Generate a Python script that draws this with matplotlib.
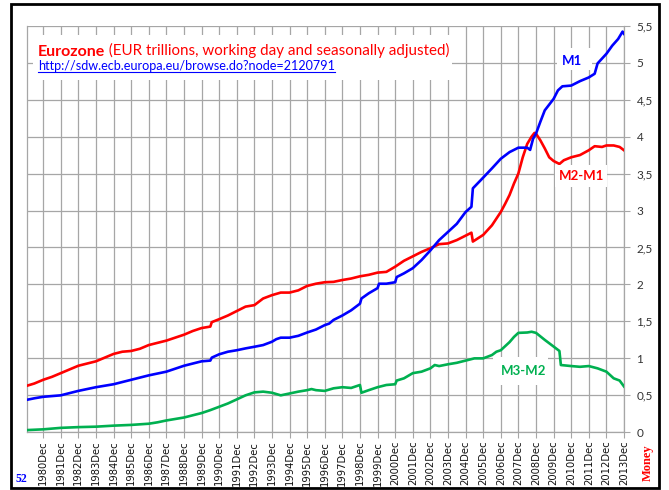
import matplotlib
matplotlib.use("Agg")
import matplotlib.pyplot as plt
import pandas as pd
from matplotlib.patches import Rectangle
from matplotlib.lines import Line2D

# ---------------- data (EUR trillions) ----------------
m1_dates = ["1980-01","1980-06","1980-12","1981-06","1981-12","1982-06","1982-12","1983-06","1983-12",
            "1984-06","1984-12","1985-06","1985-12","1986-06","1986-12","1987-06","1987-12","1988-06",
            "1988-12","1989-06","1989-12","1990-06","1990-07","1990-12","1991-06","1991-12","1992-06",
            "1992-12","1993-06","1993-12","1994-03","1994-06","1994-12","1995-06","1995-12","1996-06",
            "1996-12","1997-03","1997-06","1997-12","1998-06","1998-12","1999-01","1999-06","1999-12",
            "2000-01","2000-06","2000-12","2001-01","2001-06","2001-12","2002-06","2002-12","2003-06",
            "2003-12","2004-06","2004-12","2005-04","2005-05","2005-12","2006-06","2006-12","2007-06",
            "2007-12","2008-06","2008-08","2008-10","2008-12","2009-03","2009-06","2009-12","2010-03",
            "2010-06","2010-12","2011-06","2011-12","2012-04","2012-06","2012-12","2013-04","2013-08",
            "2013-11","2013-12"]
m1_vals = [0.44,0.46,0.48,0.49,0.50,0.53,0.56,0.585,0.61,
           0.63,0.65,0.68,0.71,0.74,0.77,0.795,0.82,0.86,
           0.90,0.93,0.96,0.97,1.01,1.055,1.09,1.11,1.135,
           1.157,1.18,1.225,1.26,1.28,1.28,1.305,1.35,1.39,
           1.45,1.47,1.52,1.58,1.65,1.74,1.81,1.88,1.95,
           2.01,2.01,2.03,2.10,2.15,2.22,2.33,2.46,2.60,
           2.71,2.82,2.98,3.05,3.30,3.445,3.57,3.70,3.79,
           3.85,3.85,3.82,3.97,4.04,4.20,4.355,4.51,4.625,
           4.68,4.69,4.75,4.80,4.85,4.99,5.12,5.23,5.32,
           5.42,5.39]

m2m1_dates = ["1980-01","1980-06","1980-12","1981-06","1981-12","1982-06","1982-12","1983-06","1983-12",
              "1984-06","1984-12","1985-06","1985-12","1986-06","1986-12","1987-06","1987-12","1988-06",
              "1988-12","1989-06","1989-12","1990-06","1990-07","1990-12","1991-06","1991-12","1992-06",
              "1992-12","1993-06","1993-12","1994-06","1994-12","1995-06","1995-12","1996-06","1996-12",
              "1997-06","1997-12","1998-06","1998-12","1999-06","1999-12","2000-06","2000-12","2001-06",
              "2001-12","2002-06","2002-12","2003-06","2003-12","2004-06","2004-12","2005-04","2005-05",
              "2005-12","2006-06","2006-12","2007-03","2007-06","2007-09","2007-12","2008-03","2008-06",
              "2008-09","2008-11","2008-12","2009-03","2009-06","2009-09","2009-12","2010-04","2010-07",
              "2010-12","2011-06","2011-12","2012-04","2012-09","2012-12","2013-05","2013-09","2013-12"]
m2m1_vals = [0.63,0.66,0.71,0.75,0.80,0.85,0.90,0.93,0.96,
             1.01,1.06,1.09,1.10,1.13,1.18,1.21,1.24,1.28,
             1.32,1.37,1.41,1.43,1.49,1.53,1.58,1.64,1.70,
             1.72,1.81,1.855,1.89,1.89,1.92,1.98,2.01,2.03,
             2.035,2.06,2.08,2.11,2.13,2.16,2.17,2.24,2.32,
             2.38,2.44,2.49,2.545,2.555,2.60,2.66,2.70,2.58,
             2.67,2.80,2.98,3.09,3.21,3.365,3.50,3.72,3.90,
             4.00,4.05,4.04,3.95,3.84,3.72,3.67,3.63,3.68,
             3.72,3.75,3.815,3.87,3.86,3.88,3.88,3.86,3.815]

m3m2_dates = ["1980-01","1980-12","1981-12","1982-12","1983-12","1984-12","1985-12","1986-12","1987-06",
              "1987-12","1988-06","1988-12","1989-06","1989-12","1990-06","1990-12","1991-06","1991-12",
              "1992-06","1992-12","1993-06","1993-12","1994-06","1994-12","1995-06","1995-12","1996-03",
              "1996-06","1996-12","1997-06","1997-12","1998-06","1998-12","1999-01","1999-06","1999-12",
              "2000-06","2000-12","2001-01","2001-06","2001-12","2002-06","2002-12","2003-03","2003-06",
              "2003-12","2004-06","2004-12","2005-06","2005-12","2006-06","2006-09","2006-12","2007-06",
              "2007-09","2007-12","2008-06","2008-09","2008-12","2009-06","2009-12","2010-04","2010-05",
              "2010-12","2011-06","2011-12","2012-06","2012-12","2013-05","2013-09","2013-12"]
m3m2_vals = [0.03,0.04,0.06,0.07,0.076,0.09,0.10,0.116,0.135,
             0.16,0.18,0.20,0.23,0.26,0.30,0.345,0.39,0.445,
             0.50,0.54,0.55,0.535,0.50,0.525,0.55,0.57,0.585,
             0.57,0.56,0.595,0.61,0.60,0.64,0.535,0.57,0.61,
             0.64,0.65,0.70,0.73,0.80,0.82,0.865,0.91,0.896,
             0.92,0.94,0.97,1.00,1.00,1.045,1.09,1.11,1.22,
             1.29,1.345,1.35,1.36,1.345,1.25,1.16,1.10,0.91,
             0.896,0.886,0.896,0.865,0.82,0.73,0.70,0.62]

tick_years = list(range(1980, 2014))
tick_labels = [f"{y}Dec" for y in tick_years]
y_ticks = [0, 0.5, 1, 1.5, 2, 2.5, 3, 3.5, 4, 4.5, 5, 5.5]
y_labels = [("%g" % v).replace(".", ",") for v in y_ticks]

title_bold = "Eurozone"
title_rest = " (EUR trillions, working day and seasonally adjusted)"
url_text = "http://sdw.ecb.europa.eu/browse.do?node=2120791"

# ---------------- figure ----------------
W, H = 669, 490
fig = plt.figure(figsize=(W / 100, H / 100), dpi=100)
fig.patch.set_facecolor("white")

def fx(px):
    return px / W

def fy(py):
    return 1 - py / H

ax = fig.add_axes([fx(27), fy(432.3), fx(624) - fx(27), fy(25.7) - fy(432.3)])

RED = "#ff0000"
BLUE = "#0000ff"
GREEN = "#00b050"
GRID = "#a6a6a6"

ax.plot(pd.to_datetime(m2m1_dates), m2m1_vals, color=RED, lw=1.9, solid_joinstyle="round", zorder=3)
ax.plot(pd.to_datetime(m1_dates), m1_vals, color=BLUE, lw=1.9, solid_joinstyle="round", zorder=3)
ax.plot(pd.to_datetime(m3m2_dates), m3m2_vals, color=GREEN, lw=1.9, solid_joinstyle="round", zorder=3)

ax.set_xlim(pd.Timestamp("1980-01-01"), pd.Timestamp("2013-12-01"))
ax.set_ylim(0, 5.5)

ax.set_xticks([pd.Timestamp(f"{y}-12-01") for y in tick_years])
ax.set_xticklabels(tick_labels, rotation=90, fontsize=7.2, family="DejaVu Sans", color="#111111")
ax.yaxis.tick_right()
ax.set_yticks(y_ticks)
ax.set_yticklabels(y_labels, fontsize=8.5, family="Lato", color="#333333")

ax.tick_params(axis="x", direction="out", length=4, width=0.8, color=GRID, pad=2)
ax.tick_params(axis="y", direction="out", length=4, width=0.8, color=GRID, pad=5)

ax.grid(True, color=GRID, lw=0.9, zorder=0)
ax.set_axisbelow(True)
ax.spines["top"].set_visible(False)
for s in ["left", "right", "bottom"]:
    ax.spines[s].set_color(GRID)
    ax.spines[s].set_linewidth(0.9)

# white boxes behind in-chart texts
def white_box(x0, y0, x1, y1):
    fig.add_artist(Rectangle((fx(x0), fy(y1)), fx(x1) - fx(x0), fy(y0) - fy(y1),
                             transform=fig.transFigure, facecolor="white", edgecolor="none", zorder=4))

white_box(33, 35, 452, 80)
white_box(557, 48, 592, 70)
white_box(555, 165, 607, 187)
white_box(493, 357, 548, 385)

# title
t1 = fig.text(fx(38), fy(55.5), title_bold, color=RED, fontsize=11.5, fontweight="bold",
              family="Lato", va="baseline", ha="left", zorder=5)
fig.canvas.draw()
r = fig.canvas.get_renderer()
bb = t1.get_window_extent(r)
t2 = fig.text(bb.x1 / W, fy(55.5), title_rest, color=RED, fontsize=10.9,
              family="Lato", va="baseline", ha="left", zorder=5)

tu = fig.text(fx(38), fy(70), url_text, color=BLUE, fontsize=9.1, family="Lato",
              va="baseline", ha="left", zorder=5)
fig.canvas.draw()
ub = tu.get_window_extent(r)
fig.add_artist(Line2D([ub.x0 / W, ub.x1 / W], [fy(71.8), fy(71.8)], transform=fig.transFigure,
                      color=BLUE, lw=0.8, zorder=5))

# series labels
fig.text(fx(572), fy(61), "M1", color=BLUE, fontsize=9.5, fontweight="bold", family="Lato",
         ha="center", va="center", zorder=5)
fig.text(fx(582), fy(176), "M2-M1", color=RED, fontsize=9.5, fontweight="bold", family="Lato",
         ha="center", va="center", zorder=5)
fig.text(fx(524), fy(371), "M3-M2", color=GREEN, fontsize=9.5, fontweight="bold", family="Lato",
         ha="center", va="center", zorder=5)

# corner texts
fig.text(fx(16), fy(482), "52", color=BLUE, fontsize=8.5, fontweight="bold", family="Liberation Serif",
         ha="left", va="baseline")
fig.text(fx(648), fy(481), "Money", color=RED, fontsize=9, fontweight="bold", family="Liberation Serif",
         rotation=90, ha="center", va="bottom")

# outer frame
fig.add_artist(Rectangle((fx(10.5), fy(487.5)), fx(659) - fx(10.5), fy(4.5) - fy(487.5),
                         transform=fig.transFigure, fill=False, edgecolor="black", lw=2, zorder=10))

fig.savefig("out.png", dpi=100)
